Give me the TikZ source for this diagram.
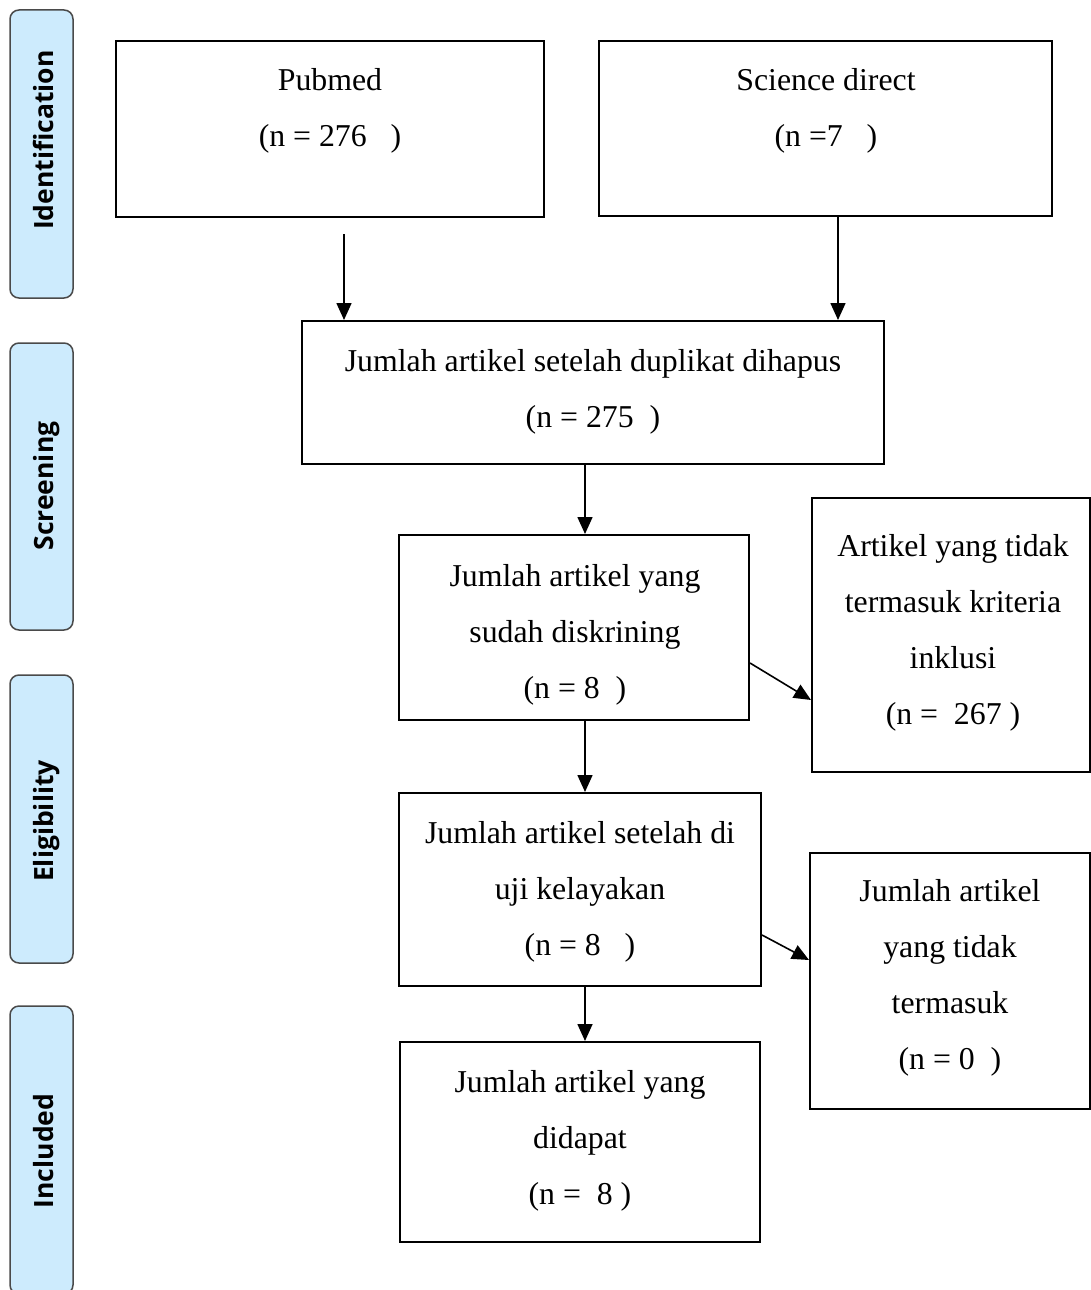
\documentclass[tikz,border=0pt]{standalone}
\usepackage{fontspec}
\setmainfont{Liberation Serif}
\newfontfamily\stagefont{Open Sans}
\usetikzlibrary{arrows.meta,calc}
\definecolor{stagefill}{HTML}{CDEBFD}
\definecolor{stageline}{HTML}{4A4A4A}
\begin{document}
\begin{tikzpicture}[x=1pt,y=-1pt,
  box/.style={draw, line width=2pt, inner sep=0pt},
  txt/.style={align=center, inner sep=0pt, font=\fontsize{31.8}{56}\selectfont},
  stagebox/.style={draw=stageline, fill=stagefill, line width=1.5pt, rounded corners=9pt, minimum width=63pt, inner sep=0pt},
  stagetxt/.style={rotate=90, anchor=base, inner sep=0pt, font=\stagefont\bfseries\fontsize{26.5}{30}\selectfont},
  arr/.style={line width=1.6pt, -{Triangle[width=15pt,length=17pt]}}]
\clip (0,0) rectangle (1091,1290);
% stage labels
\node[stagebox, minimum height=288pt] (sid) at (41.5,154) {};
\node[stagebox, minimum height=287pt] (sscr) at (41.5,486.5) {};
\node[stagebox, minimum height=288pt] (seli) at (41.5,819) {};
\node[stagebox, minimum height=288pt] (sinc) at (41.5,1150) {};
\node[stagetxt] (tid) at (53,140) {Identification};
\node[stagetxt] (tscr) at (53,486) {Screening};
\node[stagetxt] (teli) at (53,821) {Eligibility};
\node[stagetxt] (tinc) at (53,1151) {Included};
% boxes
\node[box, minimum width=428pt, minimum height=176pt] (pub) at (330,129) {};
\node[box, minimum width=453pt, minimum height=175pt] (sci) at (825.5,128.5) {};
\node[box, minimum width=582pt, minimum height=143pt] (dup) at (593,392.5) {};
\node[box, minimum width=350pt, minimum height=185pt] (disk) at (574,627.5) {};
\node[box, minimum width=278pt, minimum height=274pt] (krit) at (951,635) {};
\node[box, minimum width=362pt, minimum height=193pt] (uji) at (580,889.5) {};
\node[box, minimum width=280pt, minimum height=256pt] (ter) at (950,981) {};
\node[box, minimum width=360pt, minimum height=200pt] (did) at (580,1142) {};
% texts
\node[txt] (tpub) at (330,111) {Pubmed\\(n = 276\ \ \ )};
\node[txt] (tsci) at (826,111) {Science direct\\(n =7\ \ \ )};
\node[txt] (tdup) at (593,391.5) {Jumlah artikel setelah duplikat dihapus\\(n = 275\ \ )};
\node[txt] (tdisk) at (575,635) {Jumlah artikel yang\\sudah diskrining\\(n = 8\ \ )};
\node[txt] (tkrit) at (953,632.5) {Artikel yang tidak\\termasuk kriteria\\inklusi\\(n =\ \ 267 )};
\node[txt] (tuji) at (580,892) {Jumlah artikel setelah di\\uji kelayakan\\(n = 8\ \ \ )};
\node[txt] (tter) at (950,978) {Jumlah artikel\\yang tidak\\termasuk\\(n = 0\ \ )};
\node[txt] (tdid) at (580,1141) {Jumlah artikel yang\\didapat\\(n =\ \ 8 )};
% arrows
\draw[arr] ([xshift=14pt,yshift=-16pt]pub.south) -- ([xshift=14pt]pub.south |- dup.north);
\draw[arr] ([xshift=12.5pt]sci.south) -- ([xshift=12.5pt]sci.south |- dup.north);
\draw[arr] ([xshift=11pt]disk.north |- dup.south) -- ([xshift=11pt]disk.north);
\draw[arr] ([yshift=-35.5pt]disk.east) -- ([yshift=-65pt]krit.west);
\draw[arr] ([xshift=11pt]disk.south) -- ([xshift=11pt]disk.south |- uji.north);
\draw[arr] ([yshift=-45.5pt]uji.east) -- ([yshift=21pt]ter.west);
\draw[arr] ([xshift=5pt]uji.south) -- ([xshift=5pt]uji.south |- did.north);
\end{tikzpicture}
\end{document}
